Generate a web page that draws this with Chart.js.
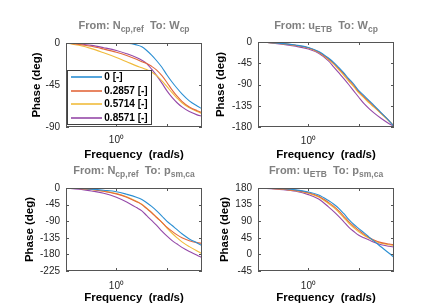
<!DOCTYPE html>
<html>
<head>
<meta charset="utf-8">
<script src="https://cdn.jsdelivr.net/npm/chart.js@4"></script>
<style>
  html, body { margin: 0; padding: 0; background: #fff; }
  body { width: 436px; height: 305px; position: relative; overflow: hidden; font-family: "Liberation Sans", Arial, sans-serif; }
  canvas { position: absolute; }
  .title { position: absolute; width: 218px; text-align: center; font-size: 11px; line-height: 11px; font-weight: bold; color: #808080; white-space: pre; }
  .title sub { font-size: 8.5px; vertical-align: -3px; line-height: 0; }
</style>
</head>
<body>
<canvas id="c1" width="218" height="134" style="left:0;top:30px"></canvas>
<canvas id="c2" width="226" height="134" style="left:210px;top:30px"></canvas>
<canvas id="c3" width="218" height="129" style="left:0;top:176px"></canvas>
<canvas id="c4" width="226" height="129" style="left:210px;top:176px"></canvas>

<div class="title" style="left:25px;top:20px">From: N<sub>cp,ref</sub>  To: W<sub>cp</sub></div>
<div class="title" style="left:217px;top:20px">From: u<sub>ETB</sub>  To: W<sub>cp</sub></div>
<div class="title" style="left:25px;top:165px">From: N<sub>cp,ref</sub>  To: p<sub>sm,ca</sub></div>
<div class="title" style="left:217px;top:165px">From: u<sub>ETB</sub>  To: p<sub>sm,ca</sub></div>

<script>
const freq = [0.1, 0.18, 0.32, 0.56, 1, 1.6, 2.5, 3.2, 4, 5, 6.3, 8, 10, 12.6, 16, 20, 28, 40, 50];
const seriesNames = ['0 [-]', '0.2857 [-]', '0.5714 [-]', '0.8571 [-]'];
const seriesColors = ['#2b8fd3', '#e2683c', '#f0bb3c', '#9549a8'];
const xTicks = [0.1, 1, 10];
const xTickLabels = ['', '10\u2070', ''];

// From: N_cp,ref  To: W_cp
const ncpWcp0 = [0, 0, 0, 0, 0, -0.3, -2, -4, -8, -13, -19, -26, -34, -41.5, -48.5, -54.5, -62, -67.5, -70.5];
const ncpWcp1 = [0, -1.5, -3.5, -6.5, -10, -13.5, -17.5, -20, -22, -25, -29, -35, -42, -50, -57, -62.5, -68.5, -72.5, -74.5];
const ncpWcp2 = [0, -2.5, -6, -10.5, -15.5, -20, -24.5, -26.5, -28.5, -31, -35, -40.5, -46.5, -53, -59, -64, -69.5, -73.5, -75.5];
const ncpWcp3 = [0, -1, -2.5, -5, -8, -11.5, -15.5, -18.5, -22, -28, -35, -43, -51, -58, -64, -68.5, -73.5, -77, -78.5];
const ncpWcpTicks = [-90, -45, 0];

// From: u_ETB  To: W_cp
const uWcp0 = [0, -1.5, -3.5, -6.5, -11.5, -20, -34, -43.5, -54, -65, -77.5, -89.5, -103, -113, -124, -134, -150, -167, -179];
const uWcp1 = [0, -1.5, -3.5, -7, -12, -21, -35.5, -45, -56, -67, -80, -92, -105, -115.5, -126, -136, -151, -167, -178.5];
const uWcp2 = [0, -1.5, -4, -7.5, -12.5, -22, -37, -47, -58.5, -70, -83, -95, -108, -118, -129, -138, -152, -167.5, -178];
const uWcp3 = [0, -2, -5, -9, -15, -24, -40, -53, -65, -77, -90, -104, -117, -130, -141, -150, -162, -173, -179];
const uWcpTicks = [-180, -135, -90, -45, 0];

// From: N_cp,ref  To: p_sm,ca
const ncpPsm0 = [0, -1, -3, -6, -10, -17, -25, -31, -40, -50, -62, -76, -90, -101, -113, -124, -138, -149, -156];
const ncpPsm1 = [0, -1.5, -4, -9, -16, -25, -37, -45, -56, -67, -80, -93, -106, -117, -127, -135, -143, -148, -150];
const ncpPsm2 = [0, -1.5, -4, -8.5, -15, -24, -36, -44, -55, -66, -79, -93, -108, -122, -135, -146, -159, -171, -178];
const ncpPsm3 = [0, -3, -8, -14, -25, -38, -53, -62, -75, -88, -101, -117, -130, -142, -152, -161, -172, -182, -189];
const ncpPsmTicks = [-225, -180, -135, -90, -45, 0];

// From: u_ETB  To: p_sm,ca
const uPsm0 = [180, 179.5, 178, 175, 169, 161, 146, 136, 125, 111, 95, 81, 70, 59, 47, 36, 20, 3, -8];
const uPsm1 = [180, 179, 177, 173.5, 167, 157.5, 141, 130, 118, 104, 89, 76, 65, 55, 46, 39, 32, 28, 26];
const uPsm2 = [180, 179, 177, 173, 166, 155.5, 138, 127, 114, 100, 85, 72, 61, 52, 44, 37, 30, 26, 24];
const uPsm3 = [180, 178, 175.5, 171, 162, 150, 129, 116, 103, 89, 74, 62, 52, 45, 39, 33, 26, 22, 20];
const uPsmTicks = [-45, 0, 45, 90, 135, 180];

// box outline + inward ticks on all four sides, like MATLAB
const boxPlugin = {
  id: 'box',
  afterDraw(chart) {
    const { ctx, chartArea: a, scales: { x, y } } = chart;
    const t = 3;
    ctx.save();
    ctx.strokeStyle = '#555';
    ctx.lineWidth = 1;
    ctx.beginPath();
    xTicks.forEach(v => {
      const px = Math.round(x.getPixelForValue(v)) + 0.5;
      ctx.moveTo(px, a.bottom); ctx.lineTo(px, a.bottom - t);
      ctx.moveTo(px, a.top); ctx.lineTo(px, a.top + t);
    });
    y.ticks.forEach(tk => {
      const py = Math.round(y.getPixelForValue(tk.value)) + 0.5;
      ctx.moveTo(a.left, py); ctx.lineTo(a.left + t, py);
      ctx.moveTo(a.right, py); ctx.lineTo(a.right - t, py);
    });
    ctx.stroke();
    ctx.strokeRect(a.left + 0.5, a.top + 0.5, a.right - a.left - 1, a.bottom - a.top - 1);
    ctx.restore();
  }
};

// legend box in the lower left corner of the first axes
const insideLegend = {
  id: 'insideLegend',
  afterDraw(chart) {
    const { ctx, chartArea: a } = chart;
    const lx = a.left + 1, ly = a.top + 27, w = 85, h = 55;
    ctx.save();
    ctx.fillStyle = '#fff';
    ctx.fillRect(lx, ly, w, h);
    ctx.strokeStyle = '#404040';
    ctx.lineWidth = 1;
    ctx.strokeRect(lx + 0.5, ly + 0.5, w - 1, h - 1);
    ctx.font = 'bold 10px "Liberation Sans", Arial, sans-serif';
    ctx.textBaseline = 'middle';
    ctx.textAlign = 'left';
    seriesNames.forEach((name, i) => {
      const cy = Math.round(ly + 6.6 + 13.9 * i);
      ctx.globalAlpha = 0.8;
      ctx.fillStyle = seriesColors[i];
      ctx.fillRect(lx + 4, cy - 1, 31, 2);
      ctx.globalAlpha = 1;
      ctx.fillStyle = '#000';
      ctx.fillText(name, lx + 37.3, cy + 0.5);
    });
    ctx.restore();
  }
};

function makePlot(id, cv, box, yTicks, series, pads, extra) {
  const datasets = series.map((vals, i) => ({
    label: seriesNames[i],
    data: freq.map((f, j) => ({ x: f, y: vals[j] })),
    borderColor: seriesColors[i],
    borderWidth: 1.1,
    pointRadius: 0,
    cubicInterpolationMode: 'monotone',
    fill: false
  }));
  return new Chart(document.getElementById(id), {
    type: 'line',
    data: { datasets },
    plugins: extra ? [boxPlugin, extra] : [boxPlugin],
    options: {
      responsive: false,
      animation: false,
      devicePixelRatio: 1,
      layout: { padding: { left: 0, top: box.t - cv.t, right: cv.l + cv.w - box.r, bottom: 0 } },
      plugins: { legend: { display: false }, tooltip: { enabled: false } },
      scales: {
        x: {
          type: 'logarithmic',
          min: 0.1,
          max: 50,
          grid: { display: false, drawTicks: false },
          border: { display: false },
          afterBuildTicks: s => { s.ticks = xTicks.map(v => ({ value: v })); },
          afterFit: s => { s.height = cv.t + cv.h - box.b; },
          ticks: {
            autoSkip: false, maxRotation: 0, padding: pads.xt,
            color: '#262626', font: { family: 'Liberation Sans', size: 10 },
            callback: v => xTickLabels[xTicks.indexOf(v)] || ''
          },
          title: {
            display: true, text: 'Frequency  (rad/s)', color: '#000',
            font: { family: 'Liberation Sans', size: 11.5, weight: 'bold' },
            padding: { top: 0, bottom: pads.xb }
          }
        },
        y: {
          min: yTicks[0],
          max: yTicks[yTicks.length - 1],
          grid: { display: false, drawTicks: false },
          border: { display: false },
          afterBuildTicks: s => { s.ticks = yTicks.map(v => ({ value: v })); },
          afterFit: s => { s.width = box.l - cv.l; },
          ticks: {
            padding: pads.yt, color: '#262626',
            font: { family: 'Liberation Sans', size: 10 },
            callback: v => String(v)
          },
          title: {
            display: true, text: 'Phase (deg)', color: '#000',
            font: { family: 'Liberation Sans', size: 11.5, weight: 'bold' },
            padding: { top: pads.yl, bottom: 0 }
          }
        }
      }
    }
  });
}

makePlot('c1', { l: 0, t: 30, w: 218, h: 134 }, { l: 66, t: 43, r: 202, b: 127 },
  ncpWcpTicks, [ncpWcp0, ncpWcp1, ncpWcp2, ncpWcp3], { xt: 7.5, xb: 2.6, yt: 6, yl: 29.8 }, insideLegend);
makePlot('c2', { l: 210, t: 30, w: 226, h: 134 }, { l: 258, t: 39, r: 394, b: 127 },
  uWcpTicks, [uWcp0, uWcp1, uWcp2, uWcp3], { xt: 8.2, xb: 2.6, yt: 6, yl: 4.1 });
makePlot('c3', { l: 0, t: 176, w: 218, h: 129 }, { l: 66, t: 182, r: 202, b: 271 },
  ncpPsmTicks, [ncpPsm0, ncpPsm1, ncpPsm2, ncpPsm3], { xt: 9.5, xb: 0, yt: 6, yl: 23.1 });
makePlot('c4', { l: 210, t: 176, w: 226, h: 129 }, { l: 258, t: 183, r: 394, b: 271 },
  uPsmTicks, [uPsm0, uPsm1, uPsm2, uPsm3], { xt: 9, xb: 0, yt: 6, yl: 7.6 });
</script>
</body>
</html>
